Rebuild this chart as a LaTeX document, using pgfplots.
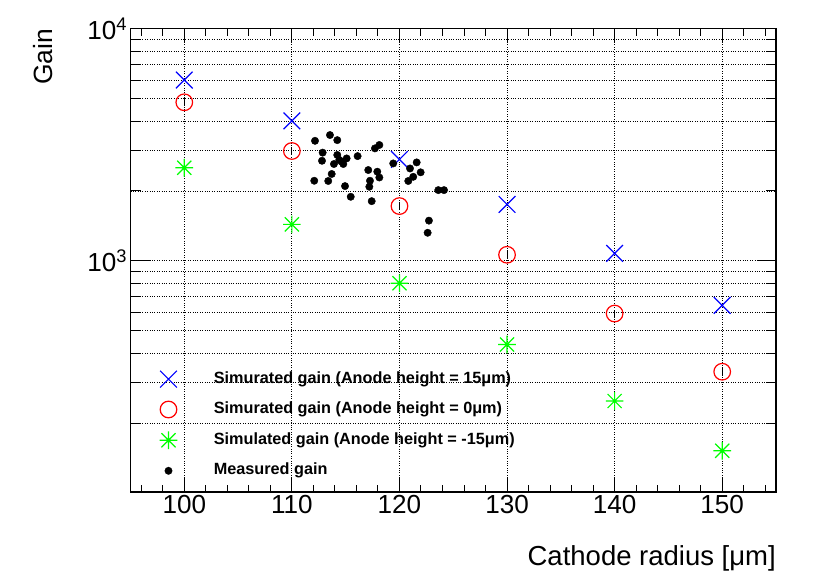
\documentclass[border=0pt]{standalone}
\usepackage{pgfplots}
\pgfplotsset{compat=1.18}
\usepackage{fontspec}
\setmainfont{Liberation Sans}

\definecolor{rootblue}{RGB}{0,0,255}
\definecolor{rootred}{RGB}{255,0,0}
\definecolor{rootgreen}{RGB}{0,255,0}

\pgfdeclareplotmark{rootstar}{%
  \pgfpathmoveto{\pgfqpoint{-\pgfplotmarksize}{0pt}}\pgfpathlineto{\pgfqpoint{\pgfplotmarksize}{0pt}}%
  \pgfpathmoveto{\pgfqpoint{0pt}{-\pgfplotmarksize}}\pgfpathlineto{\pgfqpoint{0pt}{\pgfplotmarksize}}%
  \pgfpathmoveto{\pgfqpoint{-0.8\pgfplotmarksize}{-0.8\pgfplotmarksize}}\pgfpathlineto{\pgfqpoint{0.8\pgfplotmarksize}{0.8\pgfplotmarksize}}%
  \pgfpathmoveto{\pgfqpoint{-0.8\pgfplotmarksize}{0.8\pgfplotmarksize}}\pgfpathlineto{\pgfqpoint{0.8\pgfplotmarksize}{-0.8\pgfplotmarksize}}%
  \pgfusepathqstroke}

\begin{document}
\begin{tikzpicture}
\path[use as bounding box] (0,0) rectangle (817bp,587bp);
\begin{axis}[
  at={(130.5bp,95bp)}, anchor=south west,
  scale only axis, width=645.5bp, height=463.3bp,
  xmin=95, xmax=155,
  ymode=log, ymin=101, ymax=10000,
  xtick={100,110,...,150},
  minor xtick={96,98,...,154},
  ytick={1000,10000},
  yticklabels={10\textsuperscript{3},10\textsuperscript{4}},
  minor ytick={200,300,...,900,2000,3000,...,9000},
  /pgf/number format/assume math mode=true,
  /pgf/number format/1000 sep={},
  tick label style={font=\fontsize{26.2}{30}\selectfont},
  tick align=inside,
  xtick style={/pgfplots/major tick length=14bp,/pgfplots/minor tick length=7bp},
  ytick style={/pgfplots/major tick length=19bp,/pgfplots/minor tick length=10bp},
  every tick/.style={black, line width=1bp},
  axis line style={line width=1.1bp},
  xmajorgrids=true, ymajorgrids=true, yminorgrids=true,
  major grid style={black, dotted, line width=0.9bp},
  minor grid style={black, dotted, line width=0.9bp},
  xlabel={Cathode radius [μm]},
  xlabel style={at={(axis description cs:1,0)}, anchor=base east, yshift=-74bp, inner sep=0pt, font=\fontsize{27.6}{30}\selectfont},
  legend style={at={(axis description cs:0,0)}, anchor=south west, xshift=29bp, yshift=13bp,
    draw=none, fill=none, inner sep=0pt, column sep=36.5bp, row sep=13.7bp,
    font=\bfseries\fontsize{16.3}{19}\selectfont,
    nodes={inner sep=0pt, text height=12bp, text depth=4bp}},
  legend cell align=left,
  clip=false,
]
\addplot[only marks, mark=x, mark size=11.8bp, rootblue, line width=1.2bp] coordinates {
 (100,6010) (110,4010) (120,2735) (130,1750) (140,1077) (150,643)};
\addlegendentry{Simurated gain (Anode height = 15μm)}
\addplot[only marks, mark=o, mark size=8.3bp, rootred, line width=1.2bp,
  error bars/.cd, y dir=both, y explicit relative, error mark=none,
  error bar style={black, line width=0.8bp}] coordinates {
 (100,4820) +- (0,0.04) (110,2973) +- (0,0.04) (120,1722) +- (0,0.04)
 (130,1062) +- (0,0.04) (140,593) +- (0,0.04) (150,333) +- (0,0.04)};
\addlegendentry{Simurated gain (Anode height = 0μm)}
\addplot[only marks, mark=rootstar, mark size=8.8bp, rootgreen, line width=1.2bp,
  error bars/.cd, y dir=both, y explicit relative, error mark=none,
  error bar style={black, line width=1.2bp}] coordinates {
 (100,2517) +- (0,0.015) (110,1436) +- (0,0.015) (120,801) +- (0,0.015)
 (130,436) +- (0,0.015) (140,249) +- (0,0.015) (150,152) +- (0,0.015)};
\addlegendentry{Simulated gain (Anode height = -15μm)}
\addplot[only marks, mark=*, mark size=3.7bp, black] coordinates {
 (112.15,3289) (113.54,3483) (114.22,3311) (112.86,2925) (112.80,2698)
 (114.22,2858) (115.09,2762) (114.78,2613) (113.91,2613) (114.63,2674)
 (114.41,2720) (113.70,2367) (112.08,2213) (113.38,2208) (114.94,2099)
 (115.47,1888) (116.11,2826) (117.10,2461) (117.94,2421) (118.13,2286)
 (117.26,2213) (117.20,2085) (117.42,1808) (117.72,3051) (118.13,3155)
 (119.42,2628) (120.98,2500) (121.60,2655) (121.97,2406) (121.28,2301)
 (120.82,2208) (123.61,2017) (124.14,2017) (122.74,1490) (122.62,1321)};
\addlegendentry{Measured gain}
\node[xshift=-78.5bp, rotate=90, anchor=base east, inner sep=0pt, font=\fontsize{26.5}{30}\selectfont]
  at (axis description cs:0,1) {Gain};
\end{axis}
\end{tikzpicture}
\end{document}
